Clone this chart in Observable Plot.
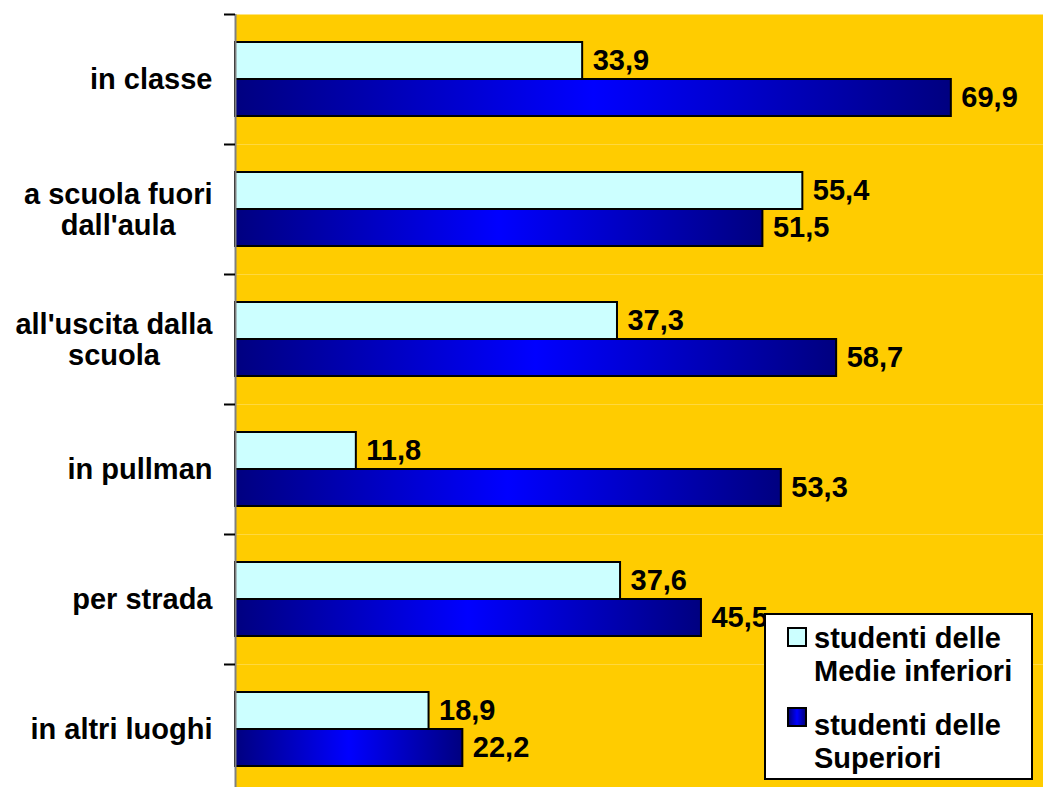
<!DOCTYPE html>
<html><head><meta charset="utf-8">
<script src="https://cdn.jsdelivr.net/npm/d3@7"></script>
<script src="https://cdn.jsdelivr.net/npm/@observablehq/plot@0.6"></script>
<style>
html,body{margin:0;padding:0;background:#fff;overflow:hidden;}
#wrap{position:relative;width:1043px;height:787px;overflow:hidden;font-family:'Liberation Sans',Arial,sans-serif;}
#legend{position:absolute;left:764px;top:613px;width:265px;height:163px;background:#fff;border:2px solid #000;}
.sw{position:absolute;left:21px;width:16px;height:16px;border:2px solid #000;}
.lt{position:absolute;left:48px;font-weight:bold;font-size:29px;line-height:33px;color:#000;white-space:nowrap;}
</style></head><body><div id="wrap"></div>
<script>
const categories = ["in classe", "a scuola fuori\ndall'aula", "all'uscita dalla\nscuola", "in pullman", "per strada", "in altri luoghi"];
const seriesKeys = ["medie", "superiori"];
const seriesLabels = ["studenti delle\nMedie inferiori", "studenti delle\nSuperiori"];
const medie = [33.9, 55.4, 37.3, 11.8, 37.6, 18.9];
const superiori = [69.9, 51.5, 58.7, 53.3, 45.5, 22.2];

const rows = categories.flatMap((c, i) => [
  {cat: c, s: seriesKeys[0], v: medie[i]},
  {cat: c, s: seriesKeys[1], v: superiori[i]}
]);
const fmt = v => v.toFixed(1).replace(".", ",");

const defsMark = () => {
  const svgNS = "http://www.w3.org/2000/svg";
  const g = document.createElementNS(svgNS, "defs");
  g.innerHTML = `<linearGradient id="blueGrad" x1="0" x2="1" y1="0" y2="0">
    <stop offset="0" stop-color="#000080"/><stop offset="0.5" stop-color="#0000FF"/><stop offset="1" stop-color="#000080"/></linearGradient>`;
  return g;
};

const plot = Plot.plot({
  width: 1043, height: 794,
  marginLeft: 235, marginRight: 0, marginTop: 14, marginBottom: 0,
  style: {fontFamily: "'Liberation Sans', Arial, sans-serif", background: "white", overflow: "visible", color: "black"},
  x: {domain: [0, 78.9], axis: null},
  y: {domain: seriesKeys, paddingInner: 0, paddingOuter: 0.733, axis: null},
  fy: {domain: categories, padding: 0, label: null},
  marks: [
    defsMark,
    Plot.frame({fill: "#FFCC00", stroke: null}),
    Plot.barX(rows.filter(d => d.s === seriesKeys[0]), {fy: "cat", y: "s", x: "v", fill: "#CCFFFF", stroke: "black", strokeWidth: 2}),
    Plot.barX(rows.filter(d => d.s === seriesKeys[1]), {fy: "cat", y: "s", x: "v", fill: "url(#blueGrad)", stroke: "black", strokeWidth: 2}),
    Plot.text(rows, {fy: "cat", y: "s", x: "v", text: d => fmt(d.v), dx: 10, textAnchor: "start", fontWeight: "bold", fontSize: 29, fill: "black"}),
    Plot.ruleX([0], {stroke: "#808080", strokeWidth: 2}),
    Plot.axisFy({anchor: "left", label: null, tickSize: 0, tickPadding: 23, fontSize: 29, fontWeight: "bold", lineHeight: 1.07, fill: "black"}),
    Plot.axisFy({anchor: "left", label: null, tickSize: 11, text: null, dy: -65, stroke: "black", strokeWidth: 2})
  ]
});

const wrap = document.getElementById("wrap");
wrap.appendChild(plot);

// center multi-line category labels within their right-aligned block
plot.querySelectorAll('g[aria-label="fy-axis tick label"] text').forEach(t => {
  const spans = t.querySelectorAll("tspan");
  if (spans.length > 1) {
    let maxW = 0;
    spans.forEach(s => { maxW = Math.max(maxW, s.getComputedTextLength()); });
    t.setAttribute("text-anchor", "middle");
    spans.forEach(s => s.setAttribute("x", -maxW / 2));
  }
});

// legend
const legend = document.createElement("div");
legend.id = "legend";
const swFills = ["#CCFFFF", "linear-gradient(to right,#000080,#0000FF 50%,#000080)"];
const tops = [7, 94];
const swTops = [12, 92];
seriesLabels.forEach((lab, i) => {
  const sw = document.createElement("div");
  sw.className = "sw";
  sw.style.top = swTops[i] + "px";
  sw.style.background = swFills[i];
  legend.appendChild(sw);
  const t = document.createElement("div");
  t.className = "lt";
  t.style.top = tops[i] + "px";
  t.innerHTML = lab.split("\n").join("<br>");
  legend.appendChild(t);
});
wrap.appendChild(legend);
</script>
</body></html>
